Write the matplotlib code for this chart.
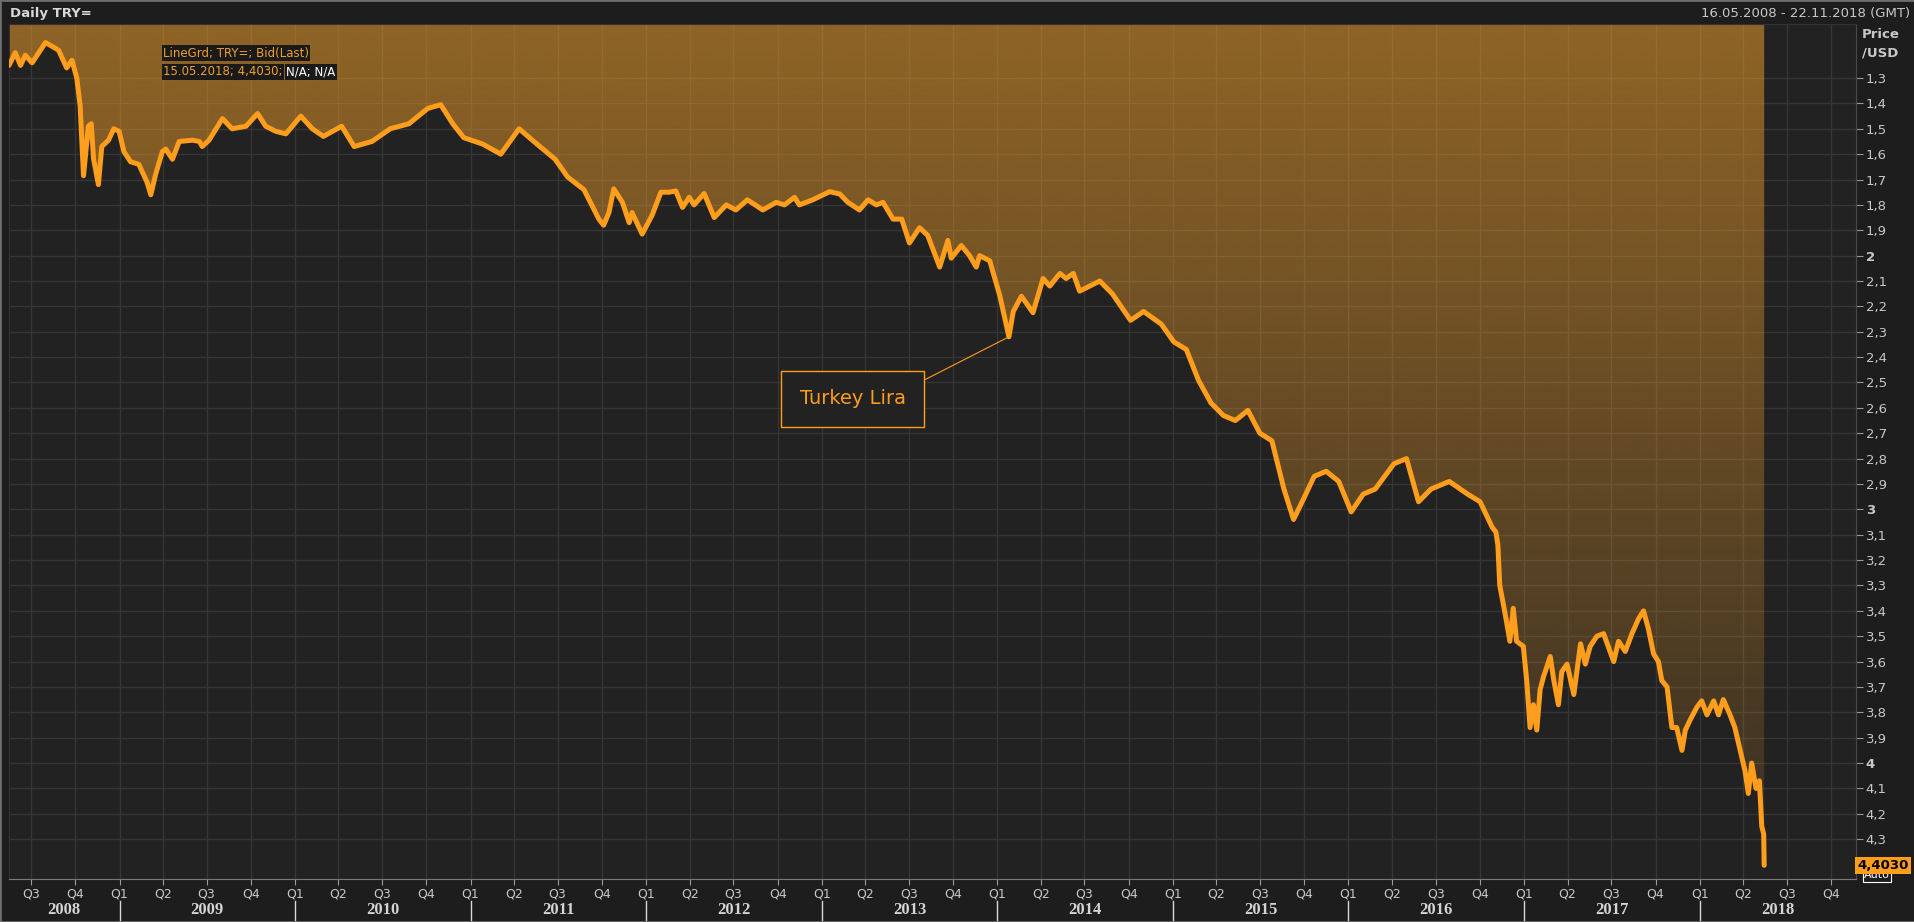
import matplotlib
matplotlib.use("Agg")
import matplotlib.pyplot as plt
import matplotlib.transforms as mtransforms
from matplotlib.patches import Rectangle
import numpy as np
import pandas as pd

# --- Data: USD/TRY bid (last) ---
dates = [
    "2008-05-16", "2008-05-29", "2008-06-09", "2008-06-19", "2008-07-03", "2008-07-31",
    "2008-08-27", "2008-09-13", "2008-09-24", "2008-10-04", "2008-10-11", "2008-10-18",
    "2008-10-28", "2008-11-03", "2008-11-08", "2008-11-18", "2008-11-25", "2008-12-09",
    "2008-12-20", "2008-12-31",
    "2009-01-10", "2009-01-24", "2009-02-10", "2009-02-27", "2009-03-07", "2009-03-17",
    "2009-03-31", "2009-04-07", "2009-04-21", "2009-05-05", "2009-06-02", "2009-06-16",
    "2009-06-22", "2009-07-06", "2009-08-03", "2009-08-23", "2009-09-21", "2009-10-15",
    "2009-11-01", "2009-11-22", "2009-12-13",
    "2010-01-13", "2010-02-06", "2010-03-01", "2010-04-08", "2010-05-04", "2010-06-10",
    "2010-07-18", "2010-08-26", "2010-10-04", "2010-10-31", "2010-11-25", "2010-12-18",
    "2011-01-26", "2011-03-05", "2011-04-12", "2011-05-19", "2011-06-26", "2011-07-22",
    "2011-08-25", "2011-09-25", "2011-10-05", "2011-10-16", "2011-10-26", "2011-11-13",
    "2011-11-27", "2011-12-03", "2011-12-24",
    "2012-01-14", "2012-02-01", "2012-02-18", "2012-03-03", "2012-03-17", "2012-03-31",
    "2012-04-10", "2012-05-01", "2012-05-22", "2012-06-16", "2012-07-06", "2012-07-30",
    "2012-08-31", "2012-09-28", "2012-10-15", "2012-11-05", "2012-11-15", "2012-12-13",
    "2013-01-17", "2013-02-07", "2013-02-24", "2013-03-20", "2013-04-07", "2013-04-24",
    "2013-05-08", "2013-05-29", "2013-06-16", "2013-07-02", "2013-07-23", "2013-08-09",
    "2013-09-03", "2013-09-20", "2013-09-27", "2013-10-18", "2013-11-04", "2013-11-18",
    "2013-11-25", "2013-12-16",
    "2014-01-06", "2014-01-25", "2014-02-03", "2014-02-20", "2014-03-03", "2014-03-16",
    "2014-04-06", "2014-04-20", "2014-05-11", "2014-05-24", "2014-06-08", "2014-06-21",
    "2014-07-12", "2014-08-02", "2014-08-28", "2014-10-05", "2014-11-01", "2014-12-08",
    "2015-01-03", "2015-01-29", "2015-02-23", "2015-03-21", "2015-04-16", "2015-05-11",
    "2015-06-06", "2015-07-01", "2015-07-26", "2015-08-20", "2015-09-09", "2015-09-27",
    "2015-10-22", "2015-11-16", "2015-12-12",
    "2016-01-07", "2016-02-01", "2016-02-26", "2016-04-05", "2016-05-01", "2016-05-26",
    "2016-06-21", "2016-07-29", "2016-09-05", "2016-10-01", "2016-10-26", "2016-11-03",
    "2016-11-07", "2016-11-11", "2016-11-22", "2016-12-02", "2016-12-09", "2016-12-16",
    "2016-12-30",
    "2017-01-06", "2017-01-13", "2017-01-20", "2017-01-27", "2017-02-03", "2017-02-10",
    "2017-02-24", "2017-03-03", "2017-03-13", "2017-03-20", "2017-03-31", "2017-04-07",
    "2017-04-14", "2017-04-28", "2017-05-08", "2017-05-18", "2017-06-01", "2017-06-15",
    "2017-07-06", "2017-07-16", "2017-07-30", "2017-08-13", "2017-08-27", "2017-09-06",
    "2017-09-16", "2017-09-27", "2017-10-07", "2017-10-14", "2017-10-25", "2017-11-04",
    "2017-11-14", "2017-11-25", "2017-12-02", "2017-12-12", "2017-12-26",
    "2018-01-05", "2018-01-16", "2018-01-30", "2018-02-09", "2018-02-19", "2018-03-05",
    "2018-03-15", "2018-03-26", "2018-04-05", "2018-04-12", "2018-04-19", "2018-04-28",
    "2018-05-05", "2018-05-10", "2018-05-14", "2018-05-15",
]
prices = [
    1.25, 1.20, 1.25, 1.21, 1.24, 1.16,
    1.19, 1.26, 1.23, 1.30, 1.41, 1.685,
    1.49, 1.48, 1.62, 1.72, 1.57, 1.545,
    1.50, 1.51,
    1.59, 1.63, 1.64, 1.71, 1.76, 1.68,
    1.59, 1.58, 1.62, 1.55, 1.545, 1.55,
    1.57, 1.545, 1.46, 1.50, 1.49, 1.44,
    1.49, 1.51, 1.52,
    1.45, 1.50, 1.53, 1.49, 1.57, 1.55,
    1.50, 1.48, 1.42, 1.405, 1.48, 1.535,
    1.56, 1.60, 1.50, 1.56, 1.62, 1.69,
    1.74, 1.856, 1.88, 1.83, 1.737, 1.79,
    1.87, 1.83, 1.915,
    1.84, 1.75, 1.75, 1.745, 1.81, 1.77,
    1.80, 1.755, 1.85, 1.80, 1.82, 1.78,
    1.82, 1.79, 1.80, 1.77, 1.80, 1.78,
    1.748, 1.757, 1.79, 1.82, 1.78, 1.80,
    1.79, 1.856, 1.856, 1.95, 1.89, 1.92,
    2.045, 1.94, 2.01, 1.96, 2.00, 2.045,
    2.00, 2.02,
    2.158, 2.32, 2.22, 2.16, 2.19, 2.225,
    2.09, 2.12, 2.07, 2.09, 2.07, 2.14,
    2.12, 2.10, 2.15, 2.255, 2.22, 2.27,
    2.34, 2.37, 2.49, 2.58, 2.63, 2.65,
    2.61, 2.70, 2.73, 2.92, 3.04, 2.97,
    2.87, 2.85, 2.89,
    3.01, 2.94, 2.92, 2.82, 2.80, 2.97,
    2.92, 2.89, 2.94, 2.97, 3.07, 3.09,
    3.14, 3.30, 3.41, 3.52, 3.39, 3.52,
    3.54,
    3.675, 3.86, 3.77, 3.87, 3.71, 3.66,
    3.58, 3.67, 3.77, 3.64, 3.61, 3.67,
    3.73, 3.53, 3.61, 3.54, 3.50, 3.49,
    3.60, 3.52, 3.56, 3.49, 3.43, 3.40,
    3.47, 3.57, 3.60, 3.675, 3.70, 3.86,
    3.86, 3.95, 3.87, 3.83, 3.78,
    3.755, 3.81, 3.755, 3.81, 3.75, 3.81,
    3.86, 3.95, 4.03, 4.12, 4.00, 4.10,
    4.07, 4.25, 4.28, 4.403,
]

last_date = "2018-05-15"
last_price = 4.4030
range_start = "2008-05-16"
range_end = "2018-11-22"
y_ticks = np.round(np.arange(1.3, 4.31, 0.1), 1)
years = list(range(2008, 2019))
annot_text = "Turkey Lira"
annot_point = ("2014-01-25", 2.32)
annot_box = ("2013-03-06", 2.565)

# --- Style ---
BG = "#1d1d1d"
PLOT_BG = "#222222"
GRID = "#363636"
ORANGE = "#ff9d1c"
TEXT = "#c8c8c8"
W, H = 1915, 922
Y_TOP, Y_BOTTOM = 1.087, 4.457

fig = plt.figure(figsize=(W / 100, H / 100), dpi=100, facecolor=BG)
ax = fig.add_axes([9 / W, 43 / H, (1856 - 9) / W, 855 / H], facecolor=PLOT_BG)

x = pd.to_datetime(dates)
x0, x1 = pd.Timestamp(range_start), pd.Timestamp(range_end)

# dotted orange area above the line, drawn as a fading gradient clipped to the area
poly = ax.fill_between(x, prices, Y_TOP, facecolor="none", edgecolor="none")
grad = np.zeros((256, 1, 4))
grad[..., :3] = matplotlib.colors.to_rgb("#f5a12a")
grad[:, 0, 3] = np.linspace(0.52, 0.10, 256)
im = ax.imshow(grad, extent=(0, 1, 0, 1), transform=ax.transAxes, aspect="auto",
               origin="upper", interpolation="bilinear", zorder=1)
im.set_clip_path(poly.get_paths()[0], transform=ax.transData)

ax.plot(x, prices, color=ORANGE, lw=3.6, solid_joinstyle="round",
        solid_capstyle="round", zorder=3)

ax.set_xlim(x0, x1)
ax.set_ylim(Y_BOTTOM, Y_TOP)
ax.set_axisbelow(True)
ax.grid(True, color=GRID, lw=1)

# x axis: quarters + years
quarters = pd.date_range("2008-07-01", range_end, freq="QS")
ax.set_xticks(quarters)
ax.set_xticklabels([f"Q{d.quarter}" for d in quarters])
ax.tick_params(axis="x", length=4, color="#9a9a9a", labelcolor=TEXT, labelsize=9, pad=2)
xt = ax.get_xaxis_transform()
for yr in years:
    s = max(pd.Timestamp(f"{yr}-01-01"), x0)
    e = min(pd.Timestamp(f"{yr + 1}-01-01"), x1)
    ax.text(s + (e - s) / 2, -0.0365, str(yr), transform=xt, ha="center", va="center",
            fontfamily="Liberation Serif", fontweight="bold", fontsize=12, color="#d4d4d4")
    if yr > 2008:
        ax.plot([pd.Timestamp(f"{yr}-01-01")] * 2, [-0.026, -0.05], transform=xt,
                color="#d8d8d8", lw=1, clip_on=False)

# y axis on the right
ax.yaxis.tick_right()
ax.set_yticks(y_ticks)
ax.set_yticklabels([("%g" % v).replace(".", ",") for v in y_ticks])
for v, lab in zip(y_ticks, ax.get_yticklabels()):
    if float(v).is_integer():
        lab.set_fontweight("bold")
ax.tick_params(axis="y", length=5, color="#9a9a9a", labelcolor=TEXT, labelsize=9.5, pad=2)

for side, col in [("right", "#4a4a4a"), ("bottom", "#7a7a7a"), ("left", "#333333"), ("top", "#333333")]:
    ax.spines[side].set_color(col)

fig.text(1862 / W, 1 - 34 / H, "Price", fontweight="bold", fontsize=9.5, color=TEXT, va="center")
fig.text(1862 / W, 1 - 53 / H, "/USD", fontweight="bold", fontsize=9.5, color=TEXT, va="center")

# last value marker
yt = mtransforms.blended_transform_factory(ax.transAxes, ax.transData)
ax.text(1.0043, last_price + 0.04, "Auto", transform=yt, ha="left", va="center", fontsize=8,
        color="white", bbox=dict(boxstyle="square,pad=0.12", fc=BG, ec="white", lw=0.8),
        clip_on=False, zorder=4)
ax.text(1.0008, last_price, ("%.4f" % last_price).replace(".", ","), transform=yt,
        ha="left", va="center", fontsize=9.5, fontweight="bold", color="black",
        bbox=dict(boxstyle="square,pad=0.15", fc=ORANGE, ec="none"), clip_on=False, zorder=5)

# header
fig.text(10 / W, 1 - 14 / H, "Daily TRY=", fontweight="bold", fontsize=9.5, color="#d8d8d8", va="center")
fig.text(1910 / W, 1 - 14 / H,
         f"{x0.strftime('%d.%m.%Y')} - {x1.strftime('%d.%m.%Y')} (GMT)",
         ha="right", va="center", fontsize=9.5, color=TEXT)

# legend text in the top-left corner
box = dict(boxstyle="square,pad=0.12", fc="#1a1a1a", ec="none")
fig.text(163 / W, 1 - 53 / H, "LineGrd; TRY=; Bid(Last)", fontsize=8.5, color="#f0a030",
         va="center", bbox=box, zorder=6)
t2 = fig.text(163 / W, 1 - 72 / H,
              f"{pd.Timestamp(last_date).strftime('%d.%m.%Y')}; {('%.4f' % last_price).replace('.', ',')};",
              fontsize=8.5, color="#f0a030", va="center", bbox=box, zorder=6)
bb = t2.get_window_extent(renderer=fig.canvas.get_renderer())
fig.text((bb.x1 + 4) / W, 1 - 72 / H, "N/A; N/A", fontsize=8.5, color="white",
         va="center", bbox=box, zorder=6)

# annotation
ax.annotate(annot_text, xy=(pd.Timestamp(annot_point[0]), annot_point[1]),
            xytext=(pd.Timestamp(annot_box[0]), annot_box[1]), textcoords="data",
            ha="center", va="center", fontsize=14, color=ORANGE,
            bbox=dict(boxstyle="square,pad=0.95", fc=PLOT_BG, ec=ORANGE, lw=1),
            arrowprops=dict(arrowstyle="-", color=ORANGE, lw=0.8, relpos=(1, 1),
                            shrinkA=0, shrinkB=0), zorder=6)

fig.patches.append(Rectangle((0, 0), 1, 1, transform=fig.transFigure, fill=False,
                             ec="#6e6e6e", lw=2))

fig.savefig("out.png", dpi=100, facecolor=BG)
